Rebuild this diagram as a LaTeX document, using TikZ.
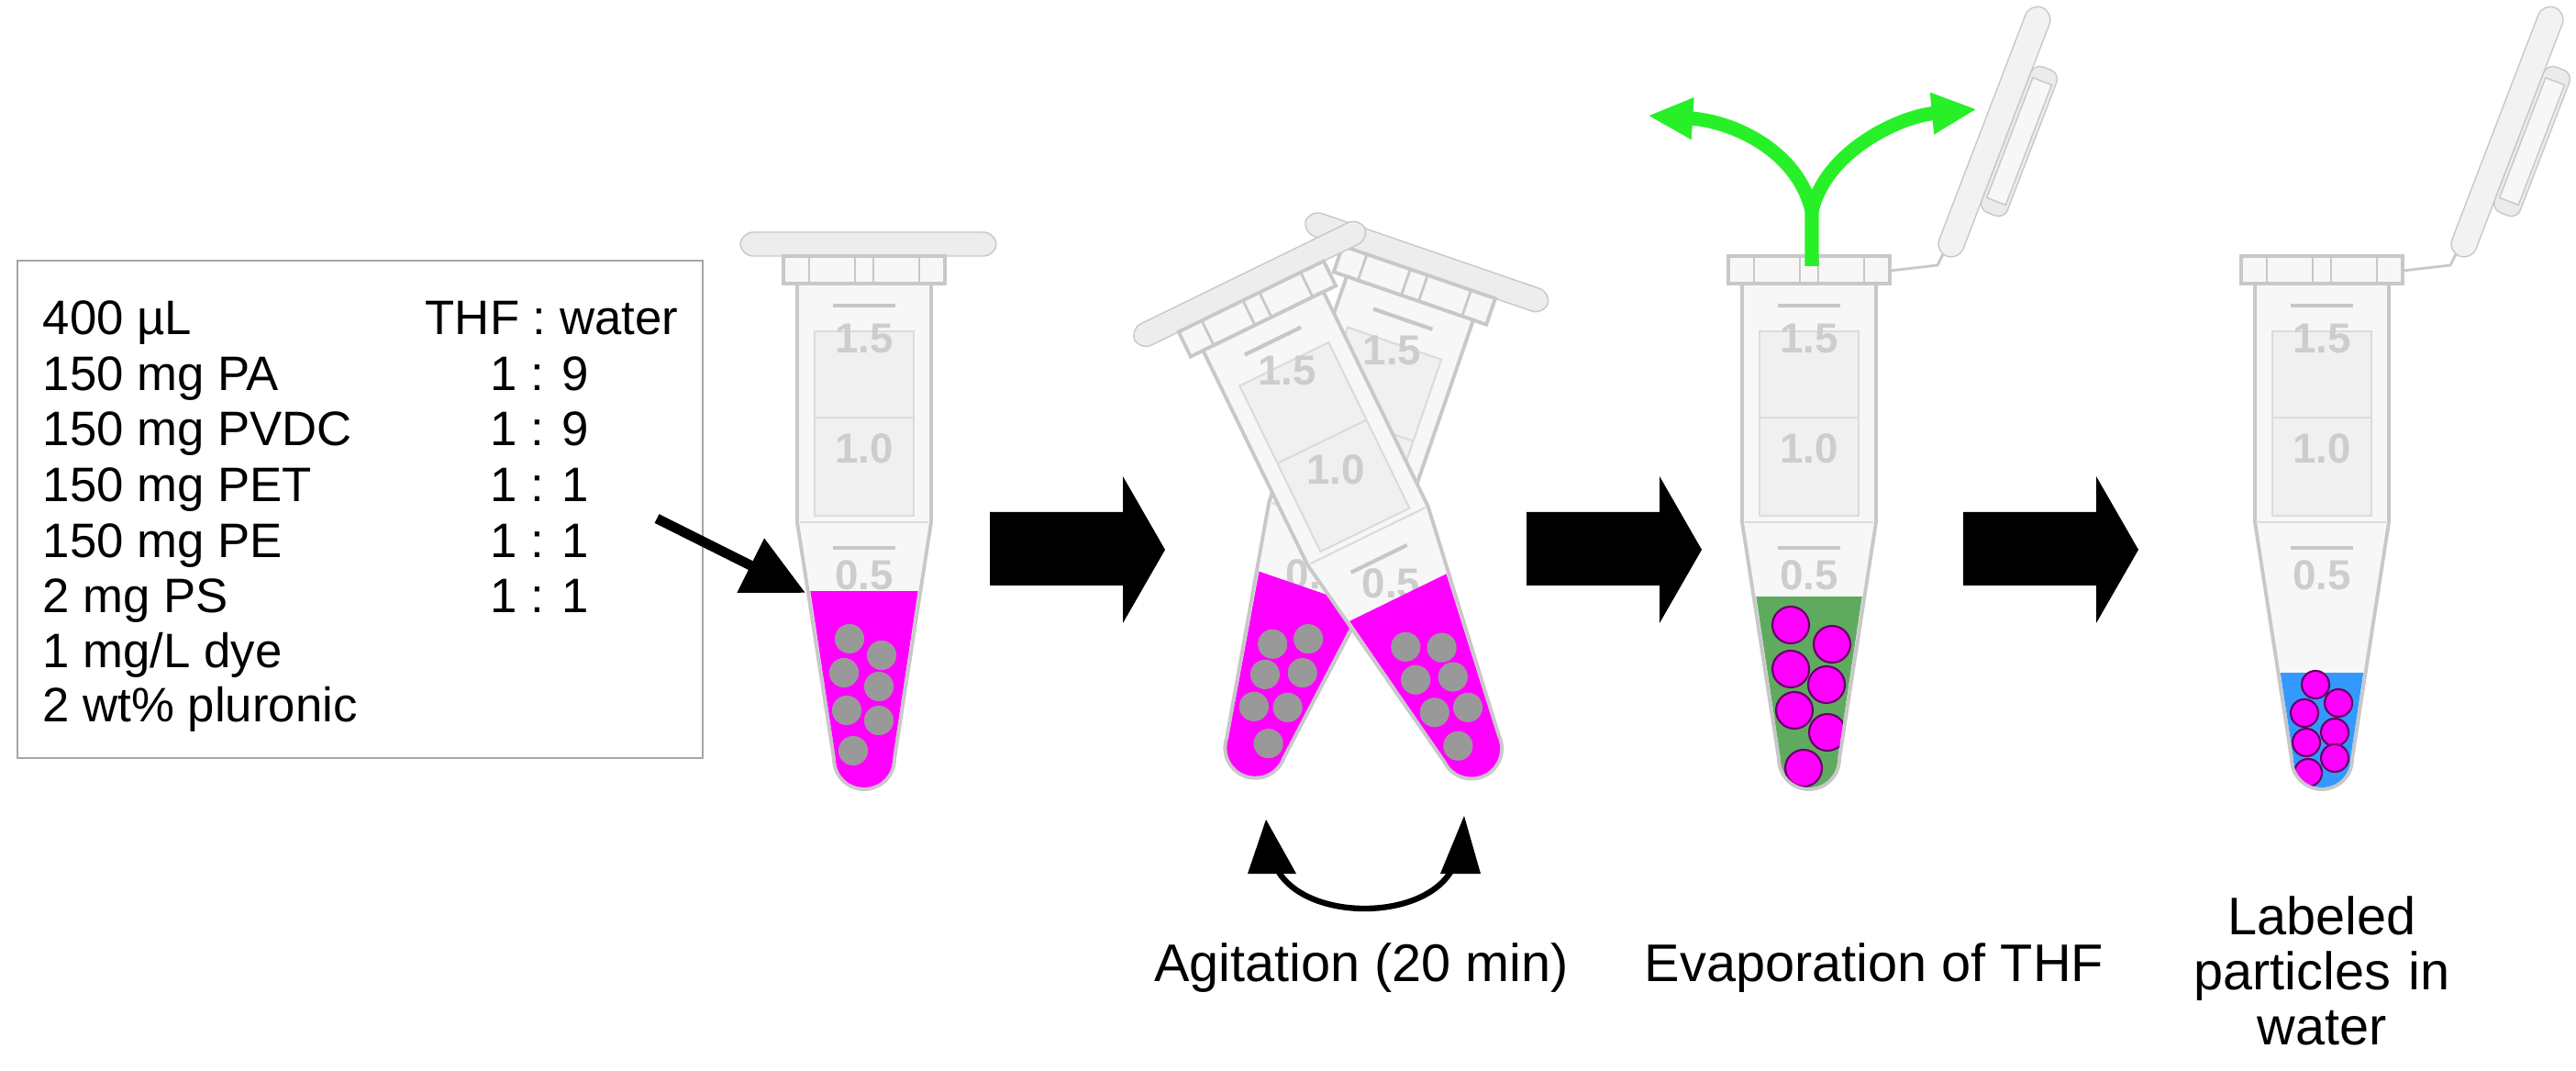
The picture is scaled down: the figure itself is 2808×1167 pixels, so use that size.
\documentclass[tikz,border=0pt]{standalone}
\usepackage{fontspec}
\setmainfont{Liberation Sans}
\usetikzlibrary{arrows.meta}
\definecolor{mag}{RGB}{255,0,255}
\definecolor{grn}{RGB}{96,170,96}
\definecolor{blu}{RGB}{51,153,255}
\definecolor{evap}{RGB}{40,240,40}
\definecolor{tubeline}{RGB}{200,200,200}
\definecolor{gradtxt}{RGB}{205,205,205}
\tikzset{
  boxtxt/.style={font=\fontsize{15}{17}\selectfont, inner sep=0pt, anchor=base west},
  ratio/.style={font=\fontsize{15}{17}\selectfont, inner sep=0pt, anchor=base},
  lab/.style={font=\fontsize{16.4}{18}\selectfont, inner sep=0pt, align=center},
  grad/.style={font=\bfseries\fontsize{13}{13}\selectfont, text=gradtxt, inner sep=0pt},
  tubeout/.style={draw=tubeline, line width=1.1pt, fill=white!97!black},
  blockarrow/.style={fill=black},
}
% \mytube{liquid colour}{liquid top}{particle fill}{radius}{particles}
\newcommand\mytube[5]{%
  \draw[tubeout] (-88,-30) rectangle (88,0);
  \draw[tubeline, line width=0.8pt] (-60,-30) -- (-60,0) (60,-30) -- (60,0) (-10,-30)--(-10,0) (10,-30)--(10,0);
  \path[tubeout] (-73,0) -- (-73,260) -- (-33,518) arc[start angle=180,end angle=0,radius=33] -- (73,260) -- (73,0) -- cycle;
  \begin{scope}
    \clip (-70,0) -- (-70,260) -- (-31,518) arc[start angle=180,end angle=0,radius=31] -- (70,260) -- (70,0) -- cycle;
    \fill[black!6] (-54,52) rectangle (54,253);
    \draw[black!14, line width=0.6pt] (-54,52) rectangle (54,253) (-54,146) -- (54,146) (-73,260) -- (73,260);
    \draw[black!22, line width=1.2pt] (-34,24) -- (34,24) (-34,288) -- (34,288);
    \node[grad] at (0,60) {1.5};
    \node[grad] at (0,180) {1.0};
    \node[grad] at (0,318) {0.5};
    \fill[#1] (-80,#2) rectangle (80,560);
    \foreach \px/\py in {#5} {\draw[fill=#3, draw=black!60!#3, line width=0.6pt] (\px,\py) circle[radius=#4];}
  \end{scope}
}
\newcommand\closedlid{\draw[tubeline, fill=black!7, rounded corners=4] (-135,-56) rectangle (144,-30);}
\newcommand\openlid{%
  \draw[tubeline, line width=0.8pt] (88,-14) -- (140,-20) -- (150,-40);
  \begin{scope}[shift={(150,-30)}, rotate=69]
    \draw[tubeline, fill=black!5, rounded corners=4] (0,-14) rectangle (290,14);
    \draw[tubeline, fill=black!8, rounded corners=3] (60,14) rectangle (230,44);
    \draw[tubeline, fill=black!3] (75,18) rectangle (215,40);
  \end{scope}
}
\begin{document}
\begin{tikzpicture}[x=0.01cm,y=-0.01cm]
\useasboundingbox (0,0) rectangle (2808,1167);
\fill[white] (0,0) rectangle (2808,1167);
% text box
\draw[black!35, line width=0.8pt] (19,284) rectangle (766,826);
\node[boxtxt] (t1) at (46,365) {400 µL};
\node[boxtxt] (t2) at (46,426) {150 mg PA};
\node[boxtxt] (t3) at (46,486) {150 mg PVDC};
\node[boxtxt] (t4) at (46,547) {150 mg PET};
\node[boxtxt] (t5) at (46,607) {150 mg PE};
\node[boxtxt] (t6) at (46,667) {2 mg PS};
\node[boxtxt] (t7) at (46,728) {1 mg/L dye};
\node[boxtxt] (t8) at (46,787) {2 wt\% pluronic};
\node[boxtxt] (r0) at (463,365) {THF : water};
\node[ratio] (r1) at (588,426) {1 : 9};
\node[ratio] (r2) at (588,486) {1 : 9};
\node[ratio] (r3) at (588,547) {1 : 1};
\node[ratio] (r4) at (588,607) {1 : 1};
\node[ratio] (r5) at (588,667) {1 : 1};
% tube 1
\begin{scope}[shift={(942,309)}]
  \closedlid
  \mytube{mag}{335}{black!40}{15}{-16/387,19/405,-22/424,16/439,-19/465,16/476,-12/509}
\end{scope}
\coordinate (a1) at (716,565);
\coordinate (a2) at (878,646);
\draw[line width=3.1pt, -{Triangle[length=19pt,width=18pt]}] (a1) -- (a2);
% block arrows
\foreach \bx in {1079,1664,2140}{
  \fill[blockarrow] (\bx,558) -- (\bx+145,558) -- (\bx+145,519) -- (\bx+191,599) -- (\bx+145,679) -- (\bx+145,638) -- (\bx,638) -- cycle;
}
% tube 2 pair
\begin{scope}[shift={(1537,325)}, rotate=-19]
  \closedlid
  \mytube{mag}{335}{black!40}{15}{16/387,-19/405,22/424,-16/439,19/465,-16/476,12/509}
\end{scope}
\begin{scope}[shift={(1377,350)}, rotate=26]
  \closedlid
  \mytube{mag}{335}{black!40}{15}{-16/387,19/405,-22/424,16/439,-19/465,16/476,-12/509}
\end{scope}
% agitation arrow
\coordinate (g1) at (1391,945);
\coordinate (g2) at (1584,945);
\draw[line width=1.8pt] (g1) .. controls (1420,1005) and (1555,1005) .. (g2);
\fill (1380,893) -- (1413,952) -- (1360,952) -- cycle;
\fill (1596,889) -- (1614,952) -- (1570,952) -- cycle;
% tube 3
\begin{scope}[shift={(1972,309)}]
  \openlid
  \mytube{grn}{341}{mag}{20}{-20/372,25/393,-20/420,19/437,-16/465,20/489,-6/528}
\end{scope}
\coordinate (e0) at (1975,290);
\coordinate (e1) at (1975,230);
\coordinate (eL) at (1796,126);
\coordinate (eR) at (2155,119);
\draw[evap, line width=4.3pt, -{Triangle[length=14pt,width=12pt]}] (e0) -- (e1) .. controls (1960,165) and (1890,132) .. (eL);
\draw[evap, line width=4.3pt, -{Triangle[length=14pt,width=12pt]}] (e1) .. controls (1990,165) and (2070,127) .. (eR);
% tube 4
\begin{scope}[shift={(2531,309)}]
  \openlid
  \mytube{blu}{424}{mag}{15}{-7/437,18/457,-19/468,14/489,-17/500,14/517,-15/533}
\end{scope}
% labels
\node[lab] (l1) at (1484,1055) {Agitation (20 min)};
\node[lab] (l2) at (2043,1055) {Evaporation of THF};
\node[lab, text width=8cm] (l3) at (2531,1058) {Labeled\\[-1pt]particles in\\[-1pt]water};
\end{tikzpicture}
\end{document}
